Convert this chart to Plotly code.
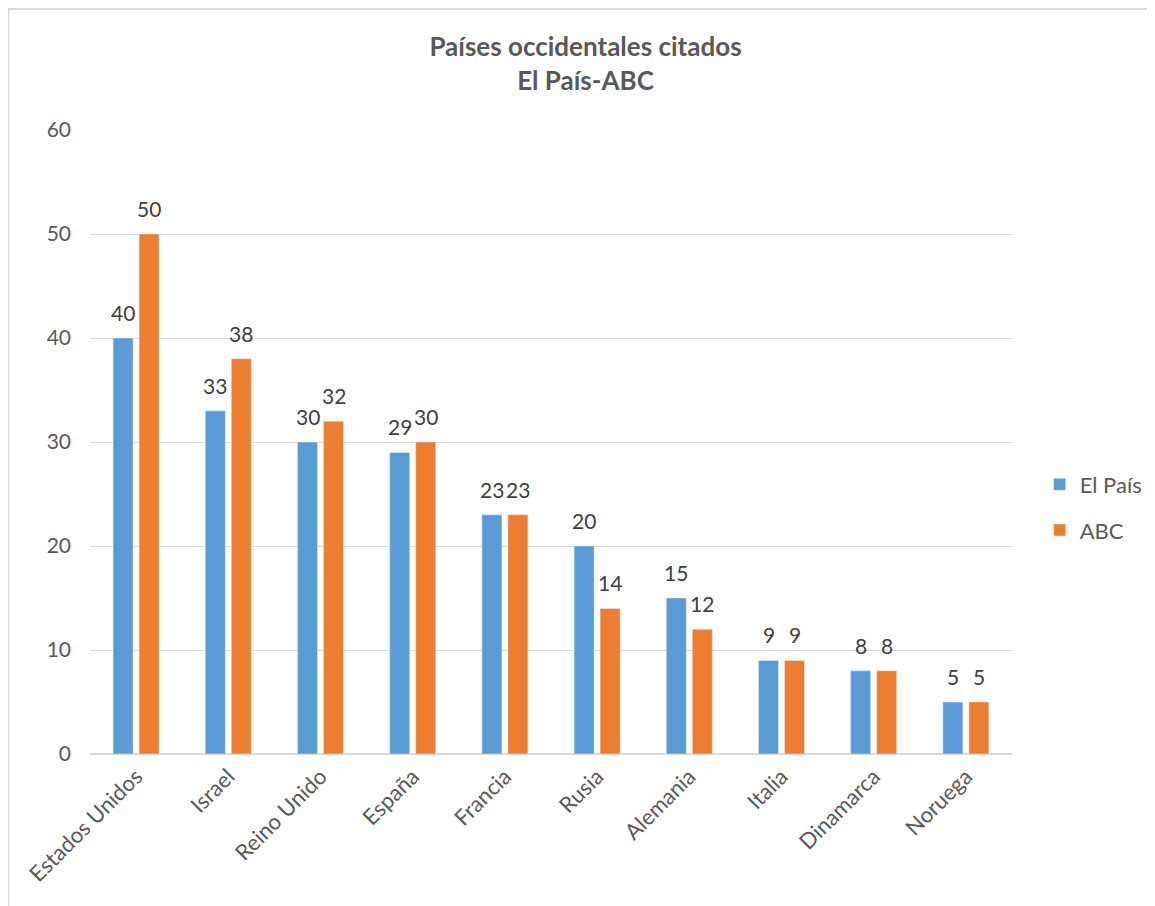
import plotly.graph_objects as go

countries = ["Estados Unidos", "Israel", "Reino Unido", "España", "Francia",
             "Rusia", "Alemania", "Italia", "Dinamarca", "Noruega"]
el_pais = [40, 33, 30, 29, 23, 20, 15, 9, 8, 5]
abc = [50, 38, 32, 30, 23, 14, 12, 9, 8, 5]

W, H = 1155, 906
L, R, T, B = 82, 151, 122, 160
FONT = "Lato"
FS = 22
NUM_FS = 21
BAR_OFFSET = 13  # px from category centre to each bar centre
LABEL_SHIFT = 11

fig = go.Figure()
fig.add_trace(go.Bar(x=countries, y=el_pais, name="El País", marker_color="#5b9bd5",
                     legendgroup="a"))
fig.add_trace(go.Bar(x=countries, y=abc, name="ABC", marker_color="#ed7d31",
                     legendgroup="b"))

for series, sign in ((el_pais, -1), (abc, 1)):
    for c, v in zip(countries, series):
        fig.add_annotation(x=c, y=v, text=str(v), showarrow=False,
                           xanchor="center", yanchor="bottom",
                           xshift=sign * BAR_OFFSET, yshift=LABEL_SHIFT,
                           font=dict(size=NUM_FS, color="#404040", family=FONT))

pw, ph = W - L - R, H - T - B
fig.add_shape(type="rect", xref="paper", yref="paper",
              x0=(0.5 - L) / pw, x1=(W + 10 - L) / pw,
              y0=-(B + 10) / ph, y1=(T + ph - 1) / ph,
              line=dict(color="#d9d9d9", width=2), layer="below")

fig.update_layout(
    width=W, height=H,
    margin=dict(l=L, r=R, t=T, b=B),
    paper_bgcolor="white", plot_bgcolor="white",
    font=dict(family=FONT, color="#595959", size=FS),
    title=dict(text="<b>Países occidentales citados<br>El País-ABC</b>",
               x=0.5, xanchor="center", y=1 - 48 / H, yanchor="middle",
               font=dict(size=26, color="#595959", family=FONT)),
    barmode="group", bargap=0.436, bargroupgap=0.23,
    legend=dict(x=1.03, y=0.395, xanchor="left", yanchor="middle",
                font=dict(size=FS, color="#595959"), traceorder="grouped",
                tracegroupgap=14, itemwidth=30),
    showlegend=True,
)
fig.update_xaxes(tickangle=-45, showgrid=False, showline=True, linecolor="#d9d9d9",
                 tickfont=dict(size=FS, color="#595959"), ticks="")
fig.update_yaxes(range=[0, 60], dtick=10, showgrid=True, gridcolor="#d9d9d9",
                 zeroline=True, zerolinecolor="#d9d9d9", showline=False,
                 tickfont=dict(size=NUM_FS, color="#595959"), ticklabelstandoff=18)

fig.write_html("out.html")
